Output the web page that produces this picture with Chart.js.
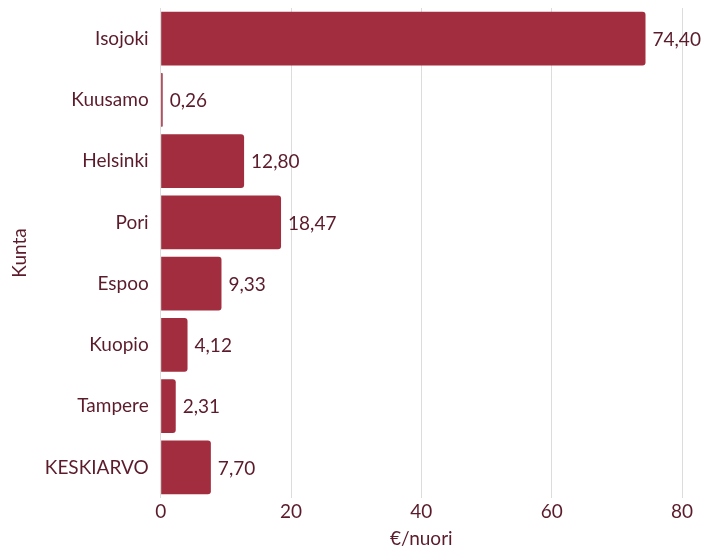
<!DOCTYPE html>
<html>
<head>
<meta charset="utf-8">
<script src="https://cdn.jsdelivr.net/npm/chart.js@4/dist/chart.umd.min.js"></script>
<style>
  html, body { margin: 0; padding: 0; background: #fff; }
  #wrap { width: 701px; height: 546px; }
</style>
</head>
<body>
<div id="wrap"><canvas id="chart"></canvas></div>
<script>
const municipalities = ["Isojoki", "Kuusamo", "Helsinki", "Pori", "Espoo", "Kuopio", "Tampere", "KESKIARVO"]
const eurosPerYouth = [74.40, 0.26, 12.80, 18.47, 9.33, 4.12, 2.31, 7.70]
const xTicks = [0, 20, 40, 60, 80]

const textColor = "#5b1b2b"
const barColor = "#a22d3e"
const fontSize = 19

// draws the value next to the end of each bar
const valueLabels = {
  id: "valueLabels",
  afterDatasetsDraw(chart) {
    const ctx = chart.ctx
    const meta = chart.getDatasetMeta(0)
    ctx.save()
    ctx.font = fontSize + "px Lato"
    ctx.fillStyle = textColor
    ctx.textBaseline = "middle"
    ctx.textAlign = "left"
    meta.data.forEach((bar, i) => {
      const label = eurosPerYouth[i].toFixed(2).replace(".", ",")
      ctx.fillText(label, bar.x + 7, bar.y + 1)
    })
    ctx.restore()
  },
}

Chart.defaults.font.family = "Lato"
Chart.defaults.color = textColor

new Chart(document.getElementById("chart"), {
  type: "bar",
  data: {
    labels: municipalities,
    datasets: [
      {
        data: eurosPerYouth,
        backgroundColor: barColor,
        borderWidth: 0,
        borderRadius: 3,
        borderSkipped: "start",
        barPercentage: 1,
        categoryPercentage: 0.88,
        minBarLength: 2,
      },
    ],
  },
  options: {
    indexAxis: "y",
    responsive: true,
    maintainAspectRatio: false,
    animation: false,
    layout: { padding: { top: 8, right: 19, bottom: -2, left: 8 } },
    plugins: {
      legend: { display: false },
      tooltip: { enabled: false },
    },
    scales: {
      x: {
        min: 0,
        max: 80,
        afterBuildTicks: (axis) => {
          axis.ticks = xTicks.map((v) => ({ value: v }))
        },
        grid: { color: "#dcdcdc", drawTicks: false, lineWidth: 1 },
        border: { display: false },
        ticks: { font: { size: fontSize, lineHeight: 1 }, color: textColor, padding: 4 },
        title: {
          display: true,
          text: "€/nuori",
          font: { size: fontSize, lineHeight: 1 },
          color: textColor,
          padding: { top: 4, bottom: 0 },
        },
      },
      y: {
        grid: { display: false, drawTicks: false },
        border: { display: false },
        ticks: { font: { size: fontSize, lineHeight: 1 }, color: textColor, padding: 12 },
        // keep the tick padding from pushing the plot area down
        afterFit: (scale) => {
          scale.paddingTop = 0
          scale.paddingBottom = 0
        },
        title: {
          display: true,
          text: "Kunta",
          font: { size: fontSize },
          color: textColor,
          padding: { top: 0, bottom: 2 },
        },
      },
    },
  },
  plugins: [valueLabels],
})
</script>
</body>
</html>
